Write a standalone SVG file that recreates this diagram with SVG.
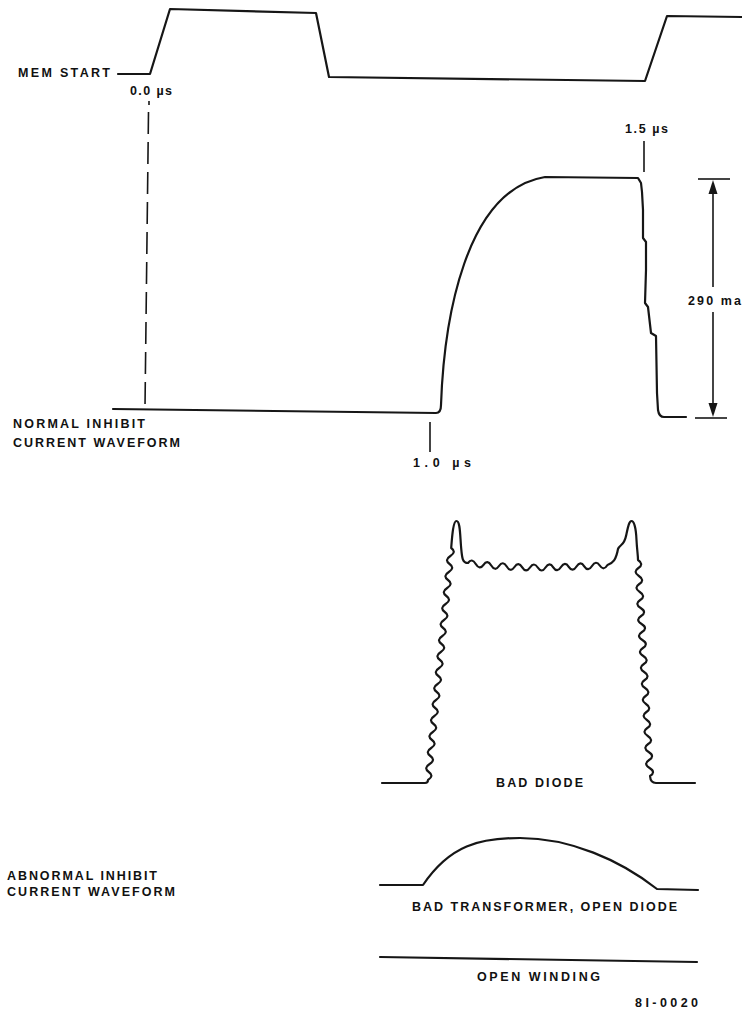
<svg xmlns="http://www.w3.org/2000/svg" width="742" height="1012" viewBox="0 0 742 1012">
<style>
.w{fill:none;stroke:#161616;stroke-width:2.2;stroke-linejoin:round;stroke-linecap:round}
.t{fill:none;stroke:#161616;stroke-width:1.6}
.lbl{font-family:"Liberation Sans",Arial,sans-serif;font-weight:bold;font-size:12.5px;fill:#111}
.ah{fill:#161616}
</style>
<rect width="742" height="1012" fill="#fff"/>
<g id="mem-start">
<path class="w" d="M118 74 L150 74 L170 9 L316 13 L329 77 L645 81 L667 16 L742 17"/>
<text class="lbl" x="18" y="76.5" textLength="92" lengthAdjust="spacing">MEM START</text>
<text class="lbl" x="130" y="94.5" textLength="42" lengthAdjust="spacing">0.0 µs</text>
</g>
<g id="connectors">
<line class="t" x1="149" y1="101" x2="149" y2="105"/>
<line class="t" x1="148.5" y1="112" x2="145" y2="407" stroke-dasharray="22 8"/>
<line class="t" x1="644" y1="141" x2="644" y2="172"/>
<line class="t" x1="430" y1="422" x2="430" y2="452"/>
<line class="t" x1="698" y1="179" x2="730" y2="179"/>
<line class="t" x1="695" y1="418" x2="727" y2="418"/>
<line class="t" x1="713" y1="192" x2="713" y2="287"/>
<line class="t" x1="713" y1="312" x2="713" y2="405"/>
<polygon class="ah" points="713,180 708.5,194 717.5,194"/>
<polygon class="ah" points="713,417 708.5,403 717.5,403"/>
</g>
<g id="normal-waveform">
<path class="w" d="M113 409 L436 413 Q441 413 441 405 C444 320 465 190 545 177 L638 178 L641 183 L642 192 L643 210 L643 238 L646 242 L646 270 L645 303 L648 307 L651 333 L656 336 L657 393 L658 410 Q659 417 664 417 L686 417"/>
<text class="lbl" x="13" y="427.5" textLength="132" lengthAdjust="spacing">NORMAL INHIBIT</text>
<text class="lbl" x="13" y="446.5" textLength="167" lengthAdjust="spacing">CURRENT WAVEFORM</text>
<text class="lbl" x="413" y="466.5" textLength="58" lengthAdjust="spacing">1.0 µs</text>
<text class="lbl" x="625" y="132.5" textLength="43" lengthAdjust="spacing">1.5 µs</text>
<text class="lbl" x="688" y="304.5" textLength="53" lengthAdjust="spacing">290 ma</text>
</g>
<g id="bad-diode">
<path class="w" d="M382 783 L425 783 Q428 783 428 780 Q434.4 776 428.8 772 T429.6 764 T430.4 756 T431.2 748 T432 740 T432.8 732 T433.6 724 T434.4 716 T435.2 708 T436 700 T436.8 692 T437.6 684 T438.4 676 T439.2 668 T440 660 T440.8 652 T441.6 644 T442.4 636 T443.2 628 T444 620 T444.8 612 T445.6 604 T446.4 596 T447.2 588 T448 580 T448.8 572 T449.6 564 T450.4 556 T451.2 548 C452 538 453 521 456.5 521 C460 521 460 533 461 546 C462 557 462 563 468 563 Q471.9 557.5 475.75 564 Q479.6 570.4 483.5 564.8 Q487.4 559.2 491.25 565.5 Q495.1 571.8 499 566 Q502.9 560.3 506.75 566.5 Q510.6 572.8 514.5 567 Q518.4 561.2 522.25 567.3 Q526.1 573.4 530 567.5 Q533.9 561.5 537.75 567.5 Q541.6 573.5 545.5 567.5 Q549.4 561.4 553.25 567.3 Q557.1 573.2 561 567 Q564.9 560.9 568.75 566.8 Q572.6 572.7 576.5 566.5 Q580.4 560.4 584.25 566.3 Q588.1 572.2 592 566 Q595.9 559.8 599.75 565.5 Q603.6 571.3 607.5 565 C613 563 616 560 618 549 C620 544 624 546 626 536 C628 527 629 521 631.5 521 C634 521 636 528 636.5 540 C637 550 638 555 638 560 Q644.2 564 638.4 568 T638.9 576 T639.3 584 T639.8 592 T640.2 600 T640.7 608 T641.1 616 T641.6 624 T642 632 T642.4 640 T642.9 648 T643.3 656 T643.8 664 T644.2 672 T644.7 680 T645.1 688 T645.6 696 T646 704 T646.4 712 T646.9 720 T647.3 728 T647.8 736 T648.2 744 T648.7 752 T649.1 760 T649.6 768 T650 776 Q650.5 783 656 783 L695 783"/>
<text class="lbl" x="496" y="786.5" textLength="87" lengthAdjust="spacing">BAD DIODE</text>
</g>
<g id="abnormal-label">
<text class="lbl" x="7" y="879.5" textLength="150" lengthAdjust="spacing">ABNORMAL INHIBIT</text>
<text class="lbl" x="7" y="895.5" textLength="168" lengthAdjust="spacing">CURRENT WAVEFORM</text>
</g>
<g id="bad-transformer">
<path class="w" d="M380 885 L423 885 C450 845 480 838 520 838 C570 838 620 860 657 889 L698 890"/>
<text class="lbl" x="412" y="910.5" textLength="265" lengthAdjust="spacing">BAD TRANSFORMER, OPEN DIODE</text>
</g>
<g id="open-winding">
<path class="w" d="M380 957 L697 962"/>
<text class="lbl" x="477" y="980.5" textLength="123" lengthAdjust="spacing">OPEN WINDING</text>
</g>
<g id="figure-number">
<text class="lbl" x="635" y="1006.5" textLength="63" lengthAdjust="spacing">8I-0020</text>
</g>
</svg>
